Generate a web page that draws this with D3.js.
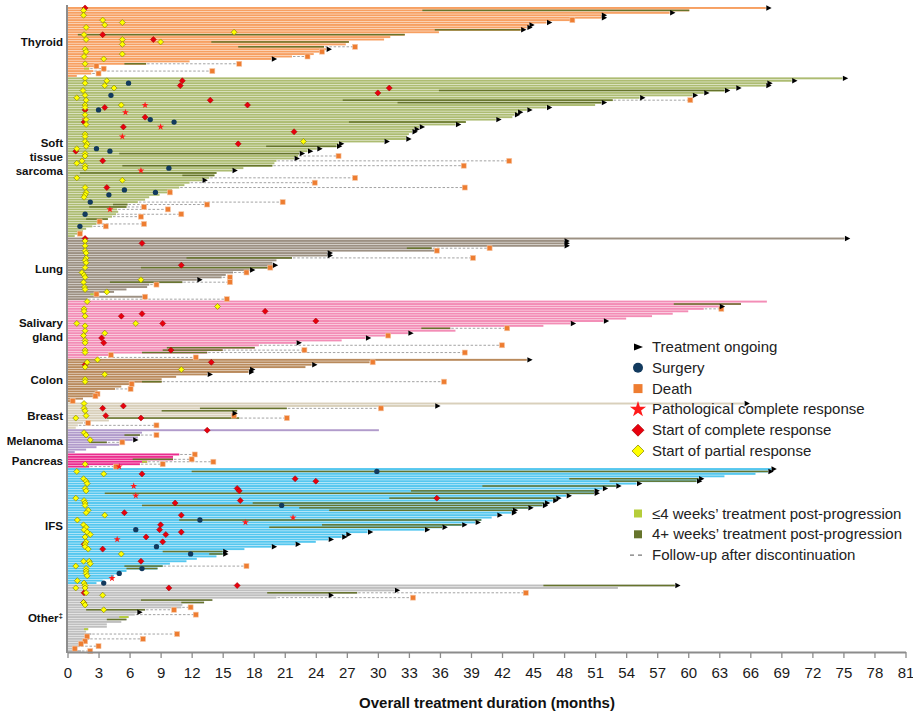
<!DOCTYPE html>
<html>
<head>
<meta charset="utf-8">
<script src="https://cdn.jsdelivr.net/npm/d3@7"></script>
<style>
  body { margin: 0; background: #fff; }
  svg { display: block; font-family: "Liberation Sans", Arial, sans-serif; }
</style>
</head>
<body>
<svg id="chart" width="913" height="711"></svg>
<script>
// ---- data (months), one row per patient, top to bottom in each group ----
const groupCodes = ['THY', 'STS', 'LUN', 'SAL', 'COL', 'BRE', 'MEL', 'PAN', 'IFS', 'OTH'];
const groupLabels = [['Thyroid'], ['Soft', 'tissue', 'sarcoma'], ['Lung'], ['Salivary', 'gland'],
  ['Colon'], ['Breast'], ['Melanoma'], ['Pancreas'], ['IFS'], ['Other']];
const groupColors = ['#f7a062', '#adbc72', '#9c9082', '#f38db6', '#b98a5c', '#d9d0bb',
  '#b19bcb', '#eb2b8e', '#55c7ef', '#bfbfbf'];

const thyroidDur = [67.5, 60.1, 58.2, 51.6, 51.6, 48.8, 46.3, 44.6, 44.4, 43.8, 35.9, 32.6, 31.2, 30.6,
  27.2, 26.9, 24.8, 25.0, 24.6, 23.8, 21.7, 19.7, 11.8, 7.6, 2.8, 2.1, 2.5, 2.3, 0.9];
const stsDur = [74.9, 70.0, 67.6, 67.5, 64.6, 63.5, 61.5, 60.4, 55.3, 52.7, 51.6, 51.0, 46.3, 44.4,
  43.5, 43.2, 43.0, 41.4, 38.5, 37.5, 34.0, 33.5, 33.3, 33.0, 32.8, 32.7, 30.6, 26.2, 26.0, 24.1,
  23.2, 22.4, 22.3, 21.9, 20.2, 20.0, 19.8, 17.0, 15.9, 14.4, 14.2, 13.7, 13.0, 11.8, 11.3, 10.8,
  10.1, 9.9, 8.9, 7.9, 7.5, 6.8, 5.8, 5.7, 4.8, 4.9, 4.7, 4.3, 3.9, 3.1, 2.8, 2.4, 1.8, 1.5, 1.0, 0.7];
const lungDur = [75.1, 48.0, 48.0, 48.0, 35.2, 35.7, 25.1, 25.1, 21.7, 20.2, 19.8, 19.8, 19.6, 17.6,
  16.0, 15.3, 14.9, 12.5, 11.1, 7.9, 7.7, 5.7, 4.5, 2.8, 7.5, 1.9];
const salivaryDur = [67.6, 65.1, 63.0, 61.5, 60.0, 58.5, 56.5, 54.0, 51.8, 48.6, 46.0, 37.0, 37.5,
  32.9, 31.0, 28.8, 26.5, 22.1, 18.5, 18.1, 15.0, 13.5, 4.1, 3.0];
const colonDur = [44.4, 29.2, 23.6, 23.0, 17.6, 17.5, 13.5, 10.5, 9.1, 9.1, 6.2, 5.2, 4.6, 2.9, 2.9,
  2.7, 1.5, 0.4];
const breastDur = [65.4, 35.5, 21.2, 16.4, 15.9, 16.1, 16.6, 4.0, 1.5, 1.0, 0.8];
const melanomaDur = [30.1, 7.2, 7.0, 6.8, 6.3, 3.8, 5.0, 2.8, 1.8, 0.7];
const pancreasDur = [10.8, 10.2, 10.2, 7.7, 7.0, 2.1];
const ifsDur = [68.0, 67.7, 66.5, 63.5, 61.0, 60.8, 55.0, 53.0, 51.7, 50.9, 50.9, 48.2, 47.2, 46.9,
  46.1, 45.9, 44.5, 43.0, 42.9, 41.5, 41.0, 40.0, 39.4, 38.1, 36.2, 34.5, 29.0, 26.9, 26.5, 25.2,
  24.0, 22.0, 19.7, 17.1, 15.0, 15.0, 14.4, 12.5, 11.5, 9.9, 9.2, 8.7, 5.7, 5.0, 4.5, 4.1, 3.4, 2.8];
const otherDur = [58.7, 53.2, 31.6, 28.0, 25.2, 20.2, 14.0, 13.2, 11.1, 11.0, 7.5, 6.7, 6.5, 5.9, 5.7,
  5.2, 3.8, 3.8, 2.0, 1.8, 2.3, 1.9, 2.1, 1.7, 1.3, 1.2, 0.7, 1.3];

// rows with treatment ongoing
const ongoing = [
  ['THY', [0, 2, 3, 4, 6, 7, 8, 9, 17, 21]],
  ['STS', [0, 1, 2, 3, 4, 5, 6, 7, 8, 10, 12, 13, 14, 15, 17, 19, 20, 21, 22, 25, 26, 27, 28, 29, 30, 31, 33, 38, 42]],
  ['LUN', [0, 1, 2, 3, 6, 7, 11, 13, 17]],
  ['SAL', [2, 8, 9, 13, 15, 17]],
  ['COL', [0, 2, 4, 5, 6]],
  ['BRE', [0, 1, 4]],
  ['MEL', [4]],
  ['IFS', [0, 1, 4, 5, 6, 7, 8, 9, 10, 11, 12, 13, 14, 15, 16, 17, 18, 19, 22, 23, 24, 25, 26, 27, 28, 29, 31, 32, 34, 35]],
  ['OTH', [0, 2, 4, 11]]
];

// treatment post-progression: [group, row, start month]
const progLong = [
  ['THY', 1, 34.3], ['THY', 9, 35.5], ['THY', 11, 1.0], ['THY', 14, 13.9], ['THY', 16, 16.5], ['THY', 23, 5.5],
  ['STS', 5, 35.9], ['STS', 9, 26.6], ['STS', 10, 31.9], ['STS', 18, 27.2], ['STS', 28, 19.2], ['STS', 31, 5.0],
  ['STS', 36, 5.3], ['STS', 39, 1.2], ['STS', 40, 11.1], ['STS', 52, 4.4], ['STS', 53, 2.1], ['STS', 58, 1.8],
  ['LUN', 4, 32.8], ['LUN', 8, 11.5], ['LUN', 12, 7.1], ['LUN', 18, 4.1],
  ['SAL', 1, 58.6], ['SAL', 11, 34.2], ['SAL', 19, 9.6], ['SAL', 20, 9.2], ['SAL', 21, 7.2],
  ['COL', 9, 7.2],
  ['BRE', 2, 12.8], ['BRE', 3, 9.1], ['BRE', 6, 3.8],
  ['MEL', 2, 5.5], ['MEL', 5, 2.1],
  ['PAN', 2, 6.3],
  ['IFS', 1, 12.0], ['IFS', 4, 48.5], ['IFS', 5, 52.4], ['IFS', 7, 40.1], ['IFS', 9, 33.2], ['IFS', 10, 3.6],
  ['IFS', 12, 31.1], ['IFS', 14, 17.9], ['IFS', 15, 7.2], ['IFS', 16, 22.4], ['IFS', 17, 25.3], ['IFS', 21, 10.8],
  ['IFS', 23, 24.6], ['IFS', 24, 19.5], ['IFS', 34, 9.2], ['IFS', 35, 13.7], ['IFS', 40, 5.5], ['IFS', 41, 5.7],
  ['OTH', 0, 46.0], ['OTH', 3, 19.3], ['OTH', 6, 7.1], ['OTH', 7, 11.0], ['OTH', 10, 1.8], ['OTH', 14, 3.8]
];
const progShort = [['THY', 25, 1.6], ['LUN', 23, 2.2], ['PAN', 3, 7.2], ['OTH', 13, 5.0], ['OTH', 18, 1.6]];

// follow-up after discontinuation, ending in death: [group, row, end month]
const followUp = [
  ['THY', 16, 27.8], ['THY', 20, 23.2], ['THY', 23, 16.6], ['THY', 25, 3.5], ['THY', 26, 14.0], ['THY', 27, 3.0],
  ['STS', 9, 60.2], ['STS', 32, 26.2], ['STS', 34, 42.7], ['STS', 36, 38.3], ['STS', 41, 27.8], ['STS', 43, 23.9],
  ['STS', 45, 38.4], ['STS', 51, 20.8], ['STS', 52, 13.5], ['STS', 53, 7.4], ['STS', 54, 9.7], ['STS', 56, 11.0],
  ['STS', 57, 7.1], ['STS', 60, 7.4], ['STS', 61, 3.7], ['STS', 64, 1.2],
  ['LUN', 4, 40.8], ['LUN', 8, 39.2], ['LUN', 14, 17.3], ['LUN', 16, 15.7], ['LUN', 18, 15.7], ['LUN', 19, 8.6], ['LUN', 25, 15.4],
  ['SAL', 3, 63.2], ['SAL', 11, 42.5], ['SAL', 18, 42.0], ['SAL', 20, 22.9], ['SAL', 21, 38.4], ['SAL', 23, 12.4],
  ['COL', 1, 29.5], ['COL', 9, 36.4], ['COL', 12, 6.1], ['COL', 17, 0.5],
  ['BRE', 2, 30.3], ['BRE', 6, 21.2], ['BRE', 8, 2.0], ['BRE', 9, 8.6],
  ['MEL', 2, 8.6], ['MEL', 5, 5.3],
  ['PAN', 0, 12.3], ['PAN', 2, 12.0], ['PAN', 3, 14.1], ['PAN', 4, 9.2], ['PAN', 5, 4.7],
  ['IFS', 40, 17.3],
  ['OTH', 3, 44.3], ['OTH', 5, 33.4], ['OTH', 9, 11.9], ['OTH', 10, 10.3], ['OTH', 12, 12.4], ['OTH', 20, 10.6],
  ['OTH', 22, 7.3], ['OTH', 25, 3.0], ['OTH', 27, 2.2]
];
// deaths at the end of treatment (no follow-up line)
const deathAtStop = [
  ['THY', 5, 48.8], ['THY', 18, 24.6], ['THY', 24, 2.8], ['STS', 47, 9.9], ['STS', 59, 3.1],
  ['LUN', 5, 35.7], ['LUN', 12, 19.6], ['LUN', 23, 2.8], ['LUN', 24, 7.5], ['SAL', 14, 31.0], ['SAL', 22, 4.2],
  ['COL', 10, 6.2], ['COL', 14, 2.9], ['COL', 15, 2.7], ['BRE', 5, 16.1],
  ['OTH', 21, 1.9], ['OTH', 23, 1.7], ['OTH', 24, 1.3], ['OTH', 26, 0.7]
];

const partialResp = [
  ['THY', 1, 1.55], ['THY', 3, 1.55], ['THY', 5, 3.4], ['THY', 7, 3.6], ['THY', 6, 5.3], ['THY', 8, 1.8], ['THY', 11, 1.6],
  ['THY', 13, 1.8], ['THY', 10, 16.1], ['THY', 13, 5.3], ['THY', 15, 5.3], ['THY', 14, 9.0], ['THY', 17, 1.7],
  ['THY', 18, 1.8], ['THY', 19, 5.3], ['THY', 20, 1.6], ['THY', 21, 3.5], ['THY', 23, 1.7],
  ['STS', 0, 1.7], ['STS', 2, 1.7], ['STS', 1, 3.8], ['STS', 3, 3.6], ['STS', 4, 4.5], ['STS', 5, 1.5], ['STS', 8, 0.9],
  ['STS', 7, 1.7], ['STS', 9, 1.8], ['STS', 11, 1.7], ['STS', 12, 1.7], ['STS', 11, 5.2], ['STS', 15, 1.7], ['STS', 17, 1.8],
  ['STS', 19, 1.8], ['STS', 23, 1.7], ['STS', 24, 1.7], ['STS', 26, 1.7], ['STS', 27, 1.9], ['STS', 28, 1.8],
  ['STS', 29, 0.9], ['STS', 31, 1.7], ['STS', 32, 1.7], ['STS', 34, 1.4], ['STS', 35, 0.9], ['STS', 36, 1.7],
  ['STS', 37, 1.7], ['STS', 41, 0.9], ['STS', 42, 5.3], ['STS', 45, 1.7], ['STS', 47, 1.8], ['STS', 48, 1.7],
  ['STS', 49, 1.6], ['STS', 26, 22.8],
  ['LUN', 1, 1.7], ['LUN', 3, 1.7], ['LUN', 5, 1.7], ['LUN', 6, 1.8], ['LUN', 8, 1.8], ['LUN', 9, 1.7], ['LUN', 10, 1.8],
  ['LUN', 12, 1.7], ['LUN', 14, 1.4], ['LUN', 15, 1.6], ['LUN', 16, 1.7], ['LUN', 18, 1.55], ['LUN', 20, 1.65],
  ['LUN', 21, 1.7], ['LUN', 17, 7.1], ['LUN', 22, 3.8],
  ['SAL', 0, 1.9], ['SAL', 2, 14.5], ['SAL', 3, 1.6], ['SAL', 4, 1.6], ['SAL', 6, 1.7], ['SAL', 9, 0.9], ['SAL', 9, 6.6],
  ['SAL', 10, 1.7], ['SAL', 12, 1.7], ['SAL', 13, 3.6], ['SAL', 14, 1.55], ['SAL', 16, 1.7], ['SAL', 17, 1.7],
  ['SAL', 20, 1.7], ['SAL', 21, 1.7],
  ['COL', 0, 2.9], ['COL', 1, 1.9], ['COL', 3, 1.7], ['COL', 4, 11.0], ['COL', 6, 3.6], ['COL', 8, 1.7], ['COL', 9, 1.7],
  ['BRE', 0, 1.6], ['BRE', 2, 1.6], ['BRE', 3, 1.7], ['BRE', 5, 1.8], ['BRE', 6, 0.8],
  ['MEL', 1, 1.6], ['MEL', 2, 1.8], ['MEL', 4, 2.2],
  ['PAN', 4, 1.7],
  ['IFS', 1, 0.9], ['IFS', 2, 3.5], ['IFS', 4, 1.55], ['IFS', 5, 1.8], ['IFS', 6, 1.9], ['IFS', 8, 1.7], ['IFS', 9, 1.8],
  ['IFS', 12, 0.8], ['IFS', 13, 1.6], ['IFS', 14, 1.7], ['IFS', 15, 1.7], ['IFS', 17, 2.0], ['IFS', 18, 1.8],
  ['IFS', 19, 3.6], ['IFS', 21, 0.95], ['IFS', 23, 1.55], ['IFS', 24, 1.8], ['IFS', 25, 1.6], ['IFS', 26, 1.9],
  ['IFS', 27, 2.2], ['IFS', 28, 1.7], ['IFS', 30, 1.8], ['IFS', 31, 1.7], ['IFS', 32, 1.7], ['IFS', 33, 2.0],
  ['IFS', 35, 5.2], ['IFS', 38, 1.55], ['IFS', 38, 2.1], ['IFS', 39, 2.2], ['IFS', 40, 0.8], ['IFS', 41, 1.8],
  ['IFS', 42, 1.8], ['IFS', 43, 1.8], ['IFS', 44, 1.9], ['IFS', 46, 0.95], ['IFS', 47, 1.6],
  ['OTH', 0, 1.7], ['OTH', 1, 0.8], ['OTH', 1, 1.7], ['OTH', 3, 1.8], ['OTH', 4, 3.4], ['OTH', 7, 1.55],
  ['OTH', 8, 1.7], ['OTH', 10, 3.5]
];
const completeResp = [
  ['THY', 0, 1.7], ['THY', 11, 3.4], ['THY', 13, 8.3],
  ['STS', 1, 11.1], ['STS', 3, 10.9], ['STS', 9, 13.8], ['STS', 11, 17.4], ['STS', 12, 3.6], ['STS', 13, 1.7],
  ['STS', 16, 7.5], ['STS', 18, 1.6], ['STS', 20, 5.4], ['STS', 22, 21.9], ['STS', 27, 16.5], ['STS', 30, 0.8],
  ['STS', 34, 3.4], ['STS', 45, 3.8], ['STS', 6, 30.0], ['STS', 4, 31.1],
  ['LUN', 0, 1.7], ['LUN', 2, 7.2], ['LUN', 11, 11.0],
  ['SAL', 4, 19.1], ['SAL', 5, 7.2], ['SAL', 6, 5.2], ['SAL', 8, 24.0], ['SAL', 9, 9.2], ['SAL', 15, 3.3],
  ['SAL', 17, 3.5], ['SAL', 20, 10.0],
  ['COL', 1, 13.9], ['COL', 2, 1.7],
  ['BRE', 1, 5.4], ['BRE', 2, 3.4], ['BRE', 5, 3.7], ['BRE', 6, 7.1],
  ['MEL', 0, 13.5],
  ['IFS', 2, 7.2], ['IFS', 4, 22.0], ['IFS', 5, 24.0], ['IFS', 8, 16.4], ['IFS', 9, 16.6], ['IFS', 12, 35.7],
  ['IFS', 14, 10.4], ['IFS', 13, 16.7], ['IFS', 18, 5.5], ['IFS', 19, 11.0], ['IFS', 23, 9.0], ['IFS', 25, 8.9],
  ['IFS', 27, 9.5], ['IFS', 26, 11.0], ['IFS', 28, 7.6], ['IFS', 30, 9.2], ['IFS', 33, 3.4], ['IFS', 38, 7.1],
  ['IFS', 31, 1.6],
  ['OTH', 0, 16.4], ['OTH', 1, 9.8], ['OTH', 3, 1.6], ['OTH', 7, 1.55]
];
const pathResp = [
  ['STS', 11, 7.5], ['STS', 14, 5.6], ['STS', 17, 1.7], ['STS', 20, 9.0], ['STS', 24, 5.3], ['STS', 38, 7.1], ['STS', 54, 4.1],
  ['PAN', 5, 5.0],
  ['IFS', 7, 6.4], ['IFS', 11, 6.6], ['IFS', 20, 21.8], ['IFS', 22, 17.2], ['IFS', 29, 4.8], ['IFS', 45, 4.3]
];
const surgery = [
  ['STS', 2, 5.9], ['STS', 7, 4.2], ['STS', 13, 3.0], ['STS', 17, 8.0], ['STS', 18, 10.3], ['STS', 29, 2.8],
  ['STS', 30, 4.1], ['STS', 37, 9.8], ['STS', 46, 5.5], ['STS', 47, 8.5], ['STS', 48, 4.0], ['STS', 51, 2.2],
  ['STS', 56, 1.7], ['STS', 61, 1.2],
  ['IFS', 1, 29.9], ['IFS', 15, 20.7], ['IFS', 21, 12.8], ['IFS', 25, 6.6], ['IFS', 32, 8.6], ['IFS', 35, 11.9],
  ['IFS', 41, 7.2], ['IFS', 43, 5.0], ['IFS', 47, 3.5]
];

const xTicks = d3.range(0, 82, 3);
const legendTop = ['Treatment ongoing', 'Surgery', 'Death', 'Pathological complete response',
  'Start of complete response', 'Start of partial response'];
const legendBottom = ['\u22644 weeks\u2019 treatment post-progression', '4+ weeks\u2019 treatment post-progression',
  'Follow-up after discontinuation'];

// ---- colours ----
const C = {
  axis: '#8c8c8c', late: '#66742c', early: '#b5cd3a', follow: '#a3a3a3', death: '#ee7d31',
  partial: '#ffff00', complete: '#e8000e', path: '#ff1a1a', surgery: '#123a5e'
};

// ---- layout ----
const svg = d3.select('#chart');
const allDur = [thyroidDur, stsDur, lungDur, salivaryDur, colonDur, breastDur, melanomaDur, pancreasDur, ifsDur, otherDur];
const offsets = {};
let nRows = 0;
groupCodes.forEach((c, i) => { offsets[c] = nRows; nRows += allDur[i].length; });

const rows = [];
allDur.forEach((arr, g) => arr.forEach((d, r) => rows.push({ g, r, dur: d })));

const x = d3.scaleLinear().domain([0, 81]).range([67.5, 905.5]);
const y = d3.scaleBand().domain(d3.range(nRows)).range([7, 652]).paddingInner(0.2);
const bw = y.bandwidth();
const yc = (code, r) => y(offsets[code] + r) + bw / 2;
const durOf = (code, r) => allDur[groupCodes.indexOf(code)][r];

// bars
svg.append('g').selectAll('rect').data(rows).join('rect')
  .attr('x', x(0))
  .attr('y', (d, i) => y(i))
  .attr('width', d => x(d.dur) - x(0))
  .attr('height', bw)
  .attr('fill', d => groupColors[d.g]);

// post-progression treatment
svg.append('g').selectAll('rect').data(progLong).join('rect')
  .attr('x', d => x(d[2]))
  .attr('y', d => yc(d[0], d[1]) - 0.75)
  .attr('width', d => Math.max(0, x(durOf(d[0], d[1])) - x(d[2])))
  .attr('height', 1.5)
  .attr('fill', C.late);

svg.append('g').selectAll('rect').data(progShort).join('rect')
  .attr('x', d => x(d[2]))
  .attr('y', d => yc(d[0], d[1]) - bw / 2)
  .attr('width', d => Math.max(0, x(durOf(d[0], d[1])) - x(d[2])))
  .attr('height', bw)
  .attr('fill', C.early);

// follow-up lines
svg.append('g').selectAll('line').data(followUp).join('line')
  .attr('x1', d => x(durOf(d[0], d[1])) + 1)
  .attr('x2', d => x(d[2]))
  .attr('y1', d => yc(d[0], d[1]))
  .attr('y2', d => yc(d[0], d[1]))
  .attr('stroke', C.follow)
  .attr('stroke-width', 1)
  .attr('stroke-dasharray', '2.5,1.8');

// death squares
const deaths = followUp.concat(deathAtStop);
svg.append('g').selectAll('rect').data(deaths).join('rect')
  .attr('x', d => x(d[2]) - 2.5)
  .attr('y', d => yc(d[0], d[1]) - 2.5)
  .attr('width', 5)
  .attr('height', 5)
  .attr('fill', C.death)
  .attr('stroke', '#f6c6a4')
  .attr('stroke-width', 0.6);

// treatment ongoing arrows
const arrows = [];
ongoing.forEach(([code, list]) => list.forEach(r => arrows.push([code, r])));
svg.append('g').selectAll('path').data(arrows).join('path')
  .attr('d', d => {
    const x0 = x(durOf(d[0], d[1])) + 0.5, y0 = yc(d[0], d[1]);
    return `M${x0},${y0 - 2.7}L${x0 + 5.3},${y0}L${x0},${y0 + 2.7}Z`;
  })
  .attr('fill', '#000');

// response and surgery markers
const diamond = d3.symbol().type(d3.symbolSquare).size(18);
svg.append('g').selectAll('path').data(surgery).join('path')
  .attr('transform', d => `translate(${x(d[2])},${yc(d[0], d[1])})`)
  .attr('d', d3.symbol().type(d3.symbolCircle).size(22))
  .attr('fill', C.surgery);

svg.append('g').selectAll('path').data(pathResp).join('path')
  .attr('transform', d => `translate(${x(d[2])},${yc(d[0], d[1])})`)
  .attr('d', d3.symbol().type(d3.symbolStar).size(15))
  .attr('fill', C.path);

svg.append('g').selectAll('path').data(completeResp).join('path')
  .attr('transform', d => `translate(${x(d[2])},${yc(d[0], d[1])}) rotate(45)`)
  .attr('d', diamond)
  .attr('fill', C.complete)
  .attr('stroke', '#9c0000')
  .attr('stroke-width', 0.5);

svg.append('g').selectAll('path').data(partialResp).join('path')
  .attr('transform', d => `translate(${x(d[2])},${yc(d[0], d[1])}) rotate(45)`)
  .attr('d', diamond)
  .attr('fill', C.partial)
  .attr('stroke', '#7d7d00')
  .attr('stroke-width', 0.6);

// axes
svg.append('line')
  .attr('x1', 67).attr('x2', 67).attr('y1', 5).attr('y2', 653)
  .attr('stroke', C.axis).attr('stroke-width', 2);

const xAxis = svg.append('g')
  .attr('transform', 'translate(0,652)')
  .call(d3.axisBottom(x).tickValues(xTicks).tickSize(6).tickSizeOuter(0).tickPadding(9));
xAxis.attr('font-family', null).attr('font-size', null);
xAxis.select('.domain').attr('stroke', C.axis).attr('stroke-width', 2);
xAxis.selectAll('.tick line').attr('stroke', C.axis).attr('stroke-width', 1.3);
xAxis.selectAll('.tick text').attr('font-size', 15).attr('fill', '#1a1a1a');

svg.append('text')
  .attr('x', 487).attr('y', 708)
  .attr('text-anchor', 'middle')
  .attr('font-size', 15).attr('font-weight', 'bold').attr('fill', '#111')
  .text('Overall treatment duration (months)');

// group labels
groupCodes.forEach((code, g) => {
  const top = y(offsets[code]);
  const bottom = y(offsets[code] + allDur[g].length - 1) + bw;
  const lines = groupLabels[g];
  const mid = (top + bottom) / 2;
  const t = svg.append('text')
    .attr('text-anchor', 'end')
    .attr('font-size', 11.5)
    .attr('font-weight', 'bold')
    .attr('fill', '#111');
  lines.forEach((ln, i) => {
    t.append('tspan')
      .attr('x', 63)
      .attr('y', mid + 4 + (i - (lines.length - 1) / 2) * 14)
      .text(ln);
    if (code === 'OTH') {
      t.append('tspan').attr('font-size', 8).attr('dy', -4).text('\u2021');
    }
  });
});

// legend
const lg = svg.append('g').attr('font-size', 15).attr('fill', '#222');
const lx = 638, tx = 652;
legendTop.forEach((label, i) => {
  const cy = 347 + i * 20.8;
  lg.append('text').attr('x', tx).attr('y', cy + 5).text(label);
  if (i === 0) {
    lg.append('path').attr('d', `M${lx - 4},${cy - 3.5}L${lx + 5},${cy}L${lx - 4},${cy + 3.5}Z`).attr('fill', '#000');
  } else if (i === 1) {
    lg.append('circle').attr('cx', lx).attr('cy', cy).attr('r', 5).attr('fill', C.surgery);
  } else if (i === 2) {
    lg.append('rect').attr('x', lx - 4.5).attr('y', cy - 4.5).attr('width', 9).attr('height', 9).attr('fill', C.death);
  } else if (i === 3) {
    lg.append('path').attr('transform', `translate(${lx},${cy})`)
      .attr('d', d3.symbol().type(d3.symbolStar).size(80)).attr('fill', C.path);
  } else {
    lg.append('path').attr('transform', `translate(${lx},${cy}) rotate(45)`)
      .attr('d', d3.symbol().type(d3.symbolSquare).size(72))
      .attr('fill', i === 4 ? C.complete : C.partial)
      .attr('stroke', i === 4 ? '#b00000' : '#8a8a00').attr('stroke-width', 0.7);
  }
});
legendBottom.forEach((label, i) => {
  const cy = 513.5 + i * 20.8;
  lg.append('text').attr('x', tx).attr('y', cy + 5).text(label);
  if (i < 2) {
    lg.append('rect').attr('x', lx - 4).attr('y', cy - 4).attr('width', 8).attr('height', 8)
      .attr('fill', i === 0 ? C.early : C.late);
  } else {
    lg.append('line').attr('x1', lx - 8).attr('x2', lx + 8).attr('y1', cy).attr('y2', cy)
      .attr('stroke', '#777').attr('stroke-width', 1.2).attr('stroke-dasharray', '4,4');
  }
});
</script>
</body>
</html>
